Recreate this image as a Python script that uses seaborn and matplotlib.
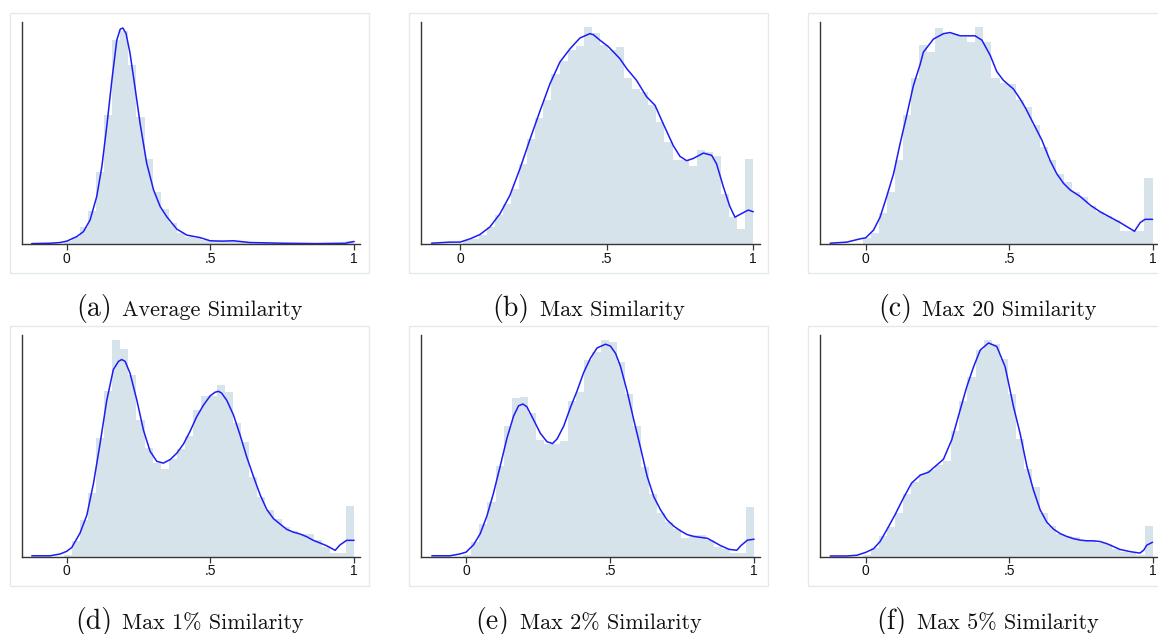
import numpy as np
import pandas as pd
import seaborn as sns
import matplotlib
matplotlib.use("Agg")
import matplotlib.pyplot as plt
from matplotlib.patches import Rectangle

sns.set_theme(style="white")
plt.rcParams["font.family"] = ["Liberation Sans", "DejaVu Sans"]

# ---------------------------------------------------------------------------
# Data: histogram densities (36 bins ending at 1.0) and kernel density curves
# ---------------------------------------------------------------------------
N_BINS = 36

avg_bin_start = -0.01
avg_density = [0.08, 0.20, 0.48, 0.95, 2.04, 3.67, 5.78, 6.05, 5.09, 3.62, 2.41, 1.47,
               0.99, 0.61, 0.31, 0.22, 0.17, 0.12, 0.10, 0.09, 0.10, 0.09, 0.07, 0.05,
               0.04, 0.04, 0.04, 0.03, 0.03, 0.03, 0.03, 0.03, 0.02, 0.03, 0.04, 0.10]
avg_kde_x = [-0.122, -0.058, -0.023, 0.0, 0.035, 0.058, 0.081, 0.104, 0.122, 0.139, 0.157,
             0.174, 0.186, 0.195, 0.206, 0.220, 0.237, 0.255, 0.278, 0.302, 0.325, 0.348,
             0.383, 0.418, 0.464, 0.499, 0.540, 0.580, 0.638, 0.754, 0.870, 0.969, 1.0]
avg_kde_y = [0.02, 0.03, 0.05, 0.09, 0.22, 0.36, 0.69, 1.35, 2.20, 3.34, 4.66,
             5.79, 6.10, 6.13, 5.98, 5.42, 4.47, 3.43, 2.30, 1.54, 1.07, 0.78,
             0.43, 0.26, 0.19, 0.10, 0.09, 0.10, 0.05, 0.03, 0.02, 0.03, 0.08]

max_bin_start = 0.009
max_density = [0.04, 0.05, 0.09, 0.16, 0.27, 0.37, 0.51, 0.74, 0.97, 1.16, 1.33, 1.57,
               1.69, 1.79, 1.83, 2.00, 1.95, 1.84, 1.79, 1.82, 1.53, 1.43, 1.40, 1.28,
               1.13, 0.94, 0.78, 0.78, 0.72, 0.87, 0.85, 0.81, 0.46, 0.25, 0.14, 0.79]
max_kde_x = [-0.097, -0.034, 0.0, 0.034, 0.068, 0.102, 0.136, 0.170, 0.205, 0.239, 0.273,
             0.307, 0.341, 0.375, 0.409, 0.443, 0.455, 0.477, 0.506, 0.545, 0.568, 0.602,
             0.636, 0.665, 0.693, 0.727, 0.750, 0.773, 0.795, 0.830, 0.858, 0.875, 0.898,
             0.920, 0.9375, 0.972, 0.983, 1.0]
max_kde_y = [0.01, 0.02, 0.02, 0.05, 0.09, 0.16, 0.28, 0.45, 0.70, 0.97, 1.23,
             1.48, 1.68, 1.80, 1.90, 1.94, 1.93, 1.88, 1.82, 1.71, 1.62, 1.51,
             1.36, 1.28, 1.11, 0.91, 0.81, 0.77, 0.79, 0.84, 0.82, 0.74, 0.53,
             0.35, 0.25, 0.30, 0.315, 0.30]

max20_bin_start = -0.011
max20_density = [0.06, 0.10, 0.29, 0.48, 0.78, 1.19, 1.53, 1.84, 1.77, 1.99, 1.94, 1.94,
                 1.91, 1.86, 2.00, 1.86, 1.53, 1.49, 1.48, 1.33, 1.26, 1.10, 0.90, 0.78,
                 0.65, 0.57, 0.48, 0.44, 0.35, 0.30, 0.26, 0.22, 0.12, 0.12, 0.12, 0.61]
max20_kde_x = [-0.124, -0.066, -0.020, 0.0, 0.027, 0.050, 0.073, 0.097, 0.120, 0.143,
               0.166, 0.190, 0.201, 0.236, 0.271, 0.294, 0.329, 0.381, 0.405, 0.434,
               0.457, 0.480, 0.515, 0.538, 0.556, 0.585, 0.614, 0.643, 0.666, 0.690,
               0.713, 0.748, 0.783, 0.817, 0.852, 0.887, 0.937, 0.957, 0.974, 1.0]
max20_kde_y = [0.01, 0.02, 0.05, 0.06, 0.13, 0.25, 0.44, 0.65, 0.93, 1.19,
               1.46, 1.66, 1.77, 1.89, 1.94, 1.95, 1.92, 1.92, 1.88, 1.74,
               1.59, 1.51, 1.43, 1.34, 1.26, 1.11, 0.96, 0.77, 0.65, 0.56,
               0.50, 0.44, 0.36, 0.30, 0.25, 0.20, 0.12, 0.20, 0.23, 0.23]

max1_bin_start = -0.01
max1_density = [0.02, 0.17, 0.40, 0.70, 1.31, 1.82, 2.39, 2.29, 2.00, 1.50, 1.20, 1.03,
                0.97, 1.08, 1.19, 1.33, 1.62, 1.77, 1.77, 1.89, 1.81, 1.47, 1.26, 0.88,
                0.66, 0.51, 0.42, 0.33, 0.28, 0.25, 0.25, 0.18, 0.11, 0.04, 0.04, 0.56]
max1_kde_x = [-0.122, -0.058, -0.023, 0.0, 0.017, 0.046, 0.070, 0.093, 0.116, 0.139,
              0.162, 0.180, 0.191, 0.203, 0.220, 0.244, 0.267, 0.290, 0.313, 0.336,
              0.360, 0.383, 0.406, 0.429, 0.452, 0.476, 0.499, 0.516, 0.528, 0.539,
              0.557, 0.580, 0.603, 0.626, 0.650, 0.673, 0.696, 0.719, 0.742, 0.766,
              0.789, 0.812, 0.835, 0.858, 0.882, 0.905, 0.934, 0.951, 0.974, 1.0]
max1_kde_y = [0.01, 0.01, 0.03, 0.06, 0.10, 0.26, 0.46, 0.81, 1.25, 1.72,
              2.06, 2.15, 2.17, 2.15, 2.02, 1.72, 1.39, 1.16, 1.05, 1.03,
              1.07, 1.14, 1.24, 1.38, 1.54, 1.67, 1.77, 1.81, 1.82, 1.80,
              1.72, 1.56, 1.34, 1.10, 0.88, 0.68, 0.52, 0.42, 0.36, 0.30,
              0.27, 0.25, 0.22, 0.18, 0.15, 0.12, 0.07, 0.13, 0.18, 0.18]

max2_bin_start = -0.01
max2_density = [0.02, 0.16, 0.36, 0.60, 0.99, 1.42, 1.73, 1.74, 1.56, 1.27, 1.23, 1.23,
                1.26, 1.69, 1.79, 2.14, 2.23, 2.36, 2.33, 2.12, 1.77, 1.42, 0.98, 0.68,
                0.48, 0.38, 0.30, 0.20, 0.24, 0.24, 0.18, 0.11, 0.08, 0.04, 0.04, 0.54]
max2_kde_x = [-0.119, -0.056, -0.021, 0.0, 0.026, 0.049, 0.072, 0.095, 0.118, 0.142,
              0.165, 0.182, 0.197, 0.211, 0.234, 0.258, 0.281, 0.300, 0.316, 0.339,
              0.362, 0.385, 0.408, 0.432, 0.455, 0.484, 0.501, 0.519, 0.536, 0.559,
              0.582, 0.606, 0.629, 0.652, 0.675, 0.698, 0.722, 0.745, 0.768, 0.791,
              0.814, 0.838, 0.861, 0.884, 0.913, 0.940, 0.954, 0.977, 1.0]
max2_kde_y = [0.01, 0.01, 0.03, 0.05, 0.13, 0.25, 0.44, 0.69, 0.98, 1.29,
              1.53, 1.64, 1.66, 1.63, 1.49, 1.34, 1.25, 1.23, 1.28, 1.42,
              1.62, 1.80, 2.00, 2.16, 2.27, 2.31, 2.29, 2.21, 2.07, 1.80,
              1.49, 1.18, 0.87, 0.65, 0.51, 0.40, 0.33, 0.28, 0.24, 0.22,
              0.21, 0.20, 0.16, 0.12, 0.08, 0.07, 0.12, 0.18, 0.19]

max5_bin_start = -0.01
max5_density = [0.02, 0.12, 0.28, 0.41, 0.60, 0.87, 1.04, 1.15, 1.20, 1.27, 1.33, 1.74,
                2.15, 2.49, 2.86, 3.00, 2.95, 2.74, 2.25, 1.63, 1.21, 0.97, 0.61, 0.42,
                0.32, 0.28, 0.27, 0.23, 0.22, 0.19, 0.18, 0.10, 0.07, 0.05, 0.02, 0.42]
max5_kde_x = [-0.124, -0.066, -0.031, 0.0, 0.027, 0.050, 0.073, 0.102, 0.131, 0.160,
              0.190, 0.219, 0.242, 0.271, 0.300, 0.329, 0.352, 0.376, 0.399, 0.428,
              0.457, 0.486, 0.503, 0.515, 0.538, 0.562, 0.585, 0.608, 0.631, 0.655,
              0.678, 0.701, 0.724, 0.748, 0.771, 0.794, 0.817, 0.841, 0.864, 0.887,
              0.922, 0.956, 0.969, 0.980, 1.0]
max5_kde_y = [0.01, 0.01, 0.02, 0.06, 0.11, 0.21, 0.37, 0.58, 0.81, 1.02,
              1.13, 1.17, 1.25, 1.35, 1.62, 2.03, 2.35, 2.63, 2.86, 2.96,
              2.91, 2.63, 2.31, 2.08, 1.71, 1.25, 0.92, 0.65, 0.48, 0.38,
              0.32, 0.28, 0.25, 0.23, 0.22, 0.22, 0.21, 0.18, 0.14, 0.10,
              0.07, 0.05, 0.09, 0.16, 0.20]

panel_labels = ["(a)", "(b)", "(c)", "(d)", "(e)", "(f)"]
panel_titles = ["Average Similarity", "Max Similarity", "Max 20 Similarity",
                "Max 1% Similarity", "Max 2% Similarity", "Max 5% Similarity"]
tick_values = [0, 0.5, 1]
tick_labels = ["0", ".5", "1"]

panels = [
    (avg_bin_start, avg_density, avg_kde_x, avg_kde_y),
    (max_bin_start, max_density, max_kde_x, max_kde_y),
    (max20_bin_start, max20_density, max20_kde_x, max20_kde_y),
    (max1_bin_start, max1_density, max1_kde_x, max1_kde_y),
    (max2_bin_start, max2_density, max2_kde_x, max2_kde_y),
    (max5_bin_start, max5_density, max5_kde_x, max5_kde_y),
]

# ---------------------------------------------------------------------------
# Layout (pixels on a 1158 x 634 canvas)
# ---------------------------------------------------------------------------
W, H = 1158, 634
axes_px = [  # left, top, right, bottom
    (21.7, 21.7, 360.0, 244.3),
    (421.0, 21.7, 760.0, 244.3),
    (820.0, 21.7, 1158.0, 244.3),
    (21.7, 335.0, 360.0, 556.7),
    (421.0, 335.0, 760.0, 556.7),
    (820.0, 335.0, 1158.0, 556.7),
]
xlims = [(-0.157, 1.0205), (-0.133, 1.023), (-0.1595, 1.019),
         (-0.157, 1.0205), (-0.1566, 1.0205), (-0.1595, 1.019)]
ytops = [6.31, 2.05, 2.05, 2.44, 2.41, 3.07]
frames_px = [  # left, top, right, bottom
    (10, 12.7, 369, 273), (409, 12.7, 768, 273), (808, 12.7, 1167, 273),
    (10, 326, 369, 586), (409, 326, 768, 586), (808, 326, 1167, 586),
]
caption_baseline_px = [316, 316, 316, 629, 629, 629]
CAPTION_GAP_PX = 10

BAR_COLOR = "#d7e3ea"
LINE_COLOR = "#1c1cf5"
AXIS_COLOR = "#363636"
FRAME_COLOR = "#e2ebeb"

fig = plt.figure(figsize=(W / 100, H / 100), dpi=100)
fig.patch.set_facecolor("white")

caption_pairs = []
for i, (start, dens, kx, ky) in enumerate(panels):
    l, t, r, b = axes_px[i]
    ax = fig.add_axes([l / W, 1 - b / H, (r - l) / W, (b - t) / H])
    ax.set_facecolor("none")

    edges = np.linspace(start, 1.0, N_BINS + 1)
    hist_df = pd.DataFrame({
        "value": 0.5 * (edges[:-1] + edges[1:]),
        "density": dens,
    })
    sns.histplot(data=hist_df, x="value", weights="density", bins=list(edges),
                 stat="count", color=BAR_COLOR, alpha=1.0, linewidth=0, ax=ax)
    kde_df = pd.DataFrame({"value": kx, "density": ky})
    sns.lineplot(data=kde_df, x="value", y="density", color=LINE_COLOR,
                 linewidth=1.1, ax=ax)

    ax.set_xlim(*xlims[i])
    ax.set_ylim(0, ytops[i])
    ax.set_xlabel("")
    ax.set_ylabel("")
    ax.set_yticks([])
    ax.set_xticks(tick_values)
    ax.set_xticklabels(tick_labels)
    ax.tick_params(axis="x", bottom=True, length=4, width=0.9, color=AXIS_COLOR,
                   labelsize=10, pad=1.5, labelcolor="#111111")
    for side in ("top", "right"):
        ax.spines[side].set_visible(False)
    for side in ("left", "bottom"):
        ax.spines[side].set_visible(True)
        ax.spines[side].set_color(AXIS_COLOR)
        ax.spines[side].set_linewidth(1.0)

    fl, ft, fr, fb = frames_px[i]
    fig.add_artist(Rectangle((fl / W, 1 - fb / H), (fr - fl) / W, (fb - ft) / H,
                             transform=fig.transFigure, fill=False,
                             edgecolor=FRAME_COLOR, linewidth=1.0))

    by = caption_baseline_px[i]
    lab = fig.text(0, 1 - by / H, panel_labels[i], family="cmr10", fontsize=20,
                   ha="left", va="baseline", color="#111111")
    ttl = fig.text(0, 1 - by / H, panel_titles[i], family="cmr10", fontsize=15.9,
                   ha="left", va="baseline", color="#111111")
    caption_pairs.append((lab, ttl, 0.5 * (fl + fr)))

# Centre each "(x) title" caption under its subfigure frame
fig.canvas.draw()
renderer = fig.canvas.get_renderer()
for lab, ttl, centre in caption_pairs:
    wl = lab.get_window_extent(renderer).width
    wt = ttl.get_window_extent(renderer).width
    left = centre - 0.5 * (wl + CAPTION_GAP_PX + wt)
    lab.set_x(left / W)
    ttl.set_x((left + wl + CAPTION_GAP_PX) / W)

fig.savefig("out.png", dpi=100, facecolor="white")
